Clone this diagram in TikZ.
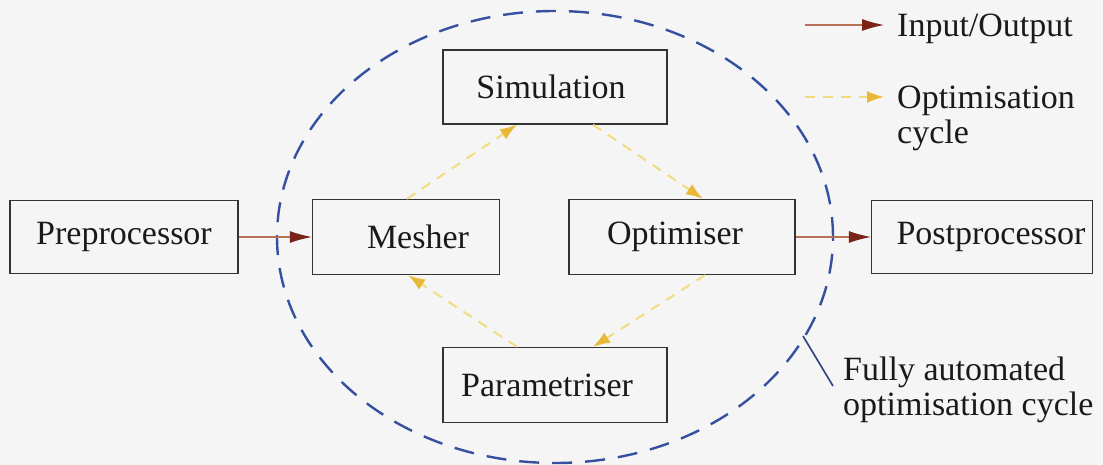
\documentclass[tikz,border=0pt]{standalone}
\usepackage{fontspec}
\setmainfont{Liberation Serif}
\usetikzlibrary{arrows.meta}
\definecolor{bgcol}{HTML}{F5F5F5}
\definecolor{boxline}{HTML}{333333}
\definecolor{ioline}{HTML}{B87058}
\definecolor{iohead}{HTML}{7A2418}
\definecolor{cycline}{HTML}{F2DC80}
\definecolor{cychead}{HTML}{E8B838}
\definecolor{ringcol}{HTML}{34509E}
\definecolor{textcol}{HTML}{1A1A1A}
% shift a box label sideways by #1 (positive = right)
\newcommand{\offsetlabel}[2]{\ifdim#1>0pt\hspace*{#1}\hspace*{#1}#2\else#2\hspace*{-#1}\hspace*{-#1}\fi}
\tikzset{
  stage/.style={draw=boxline, line width=1.3pt, fill=bgcol, text=textcol,
    font=\fontsize{34}{38}\selectfont, inner sep=0pt},
  io/.style={draw=ioline, line width=1.1pt,
    -{Latex[length=22pt,width=12pt,color=iohead]}},
  cyc/.style={draw=cycline, line width=2pt, dash pattern=on 10pt off 8pt,
    -{Latex[length=17pt,width=12pt,color=cychead]}},
  lbl/.style={text=textcol, font=\fontsize{34}{35}\selectfont, inner sep=0pt,
    align=left, anchor=west},
}
\begin{document}
\begin{tikzpicture}[x={(1pt,0)}, y={(0,-1pt)}]
  \fill[bgcol] (0,0) rectangle (1103,465);
  \useasboundingbox (0,0) rectangle (1103,465);

  % automated loop boundary
  \draw[ringcol, line width=2.4pt, dash pattern=on 20pt off 13pt]
    (555,237) ellipse [x radius=278pt, y radius=226pt];

  % processing stages
  \node[stage, minimum width=228pt, minimum height=73pt] (pre)  at (124,237) {Preprocessor};
  \node[stage, minimum width=187pt, minimum height=75pt] (mesh) at (406,237) {\offsetlabel{12pt}{Mesher}};
  \node[stage, minimum width=226pt, minimum height=75pt] (opt)  at (682,237) {\offsetlabel{-7pt}{Optimiser}};
  \node[stage, minimum width=221pt, minimum height=73pt] (post) at (982,237) {\offsetlabel{9pt}{Postprocessor}};
  \node[stage, minimum width=224pt, minimum height=74pt] (sim)  at (555,87)  {\offsetlabel{-4pt}{Simulation}};
  \node[stage, minimum width=224pt, minimum height=75pt] (par)  at (555,385) {\offsetlabel{-8pt}{Parametriser}};

  % data flow in and out of the loop
  \draw[io] (pre.east) -- (mesh.west);
  \draw[io] (opt.east) -- (post.west);

  % optimisation cycle
  \draw[cyc] ([xshift=1pt]mesh.north) -- ([xshift=-38pt]sim.south);
  \draw[cyc] ([xshift=38pt]sim.south) -- ([xshift=21pt]opt.north);
  \draw[cyc] ([xshift=23pt]opt.south) -- ([xshift=38pt]par.north);
  \draw[cyc] ([xshift=-38pt]par.north) -- ([xshift=2pt]mesh.south);

  % legend
  \coordinate (la1) at (805,25);
  \coordinate (lb1) at (884,25);
  \draw[io] (la1) -- (lb1);
  \node[lbl] (lio) at (897,29) {Input/Output};
  \coordinate (la2) at (805,97);
  \coordinate (lb2) at (884,97);
  \draw[cyc] (la2) -- (lb2);
  \node[lbl, anchor=north west] (lcyc) at (897,86) {Optimisation\\cycle};

  % boundary callout
  \coordinate (ca) at (803,336);
  \coordinate (cb) at (833,386);
  \draw[ringcol!80!black, line width=1.6pt] (ca) -- (cb);
  \node[lbl, anchor=north west] (lauto) at (843,357) {Fully automated\\optimisation cycle};
\end{tikzpicture}
\end{document}
